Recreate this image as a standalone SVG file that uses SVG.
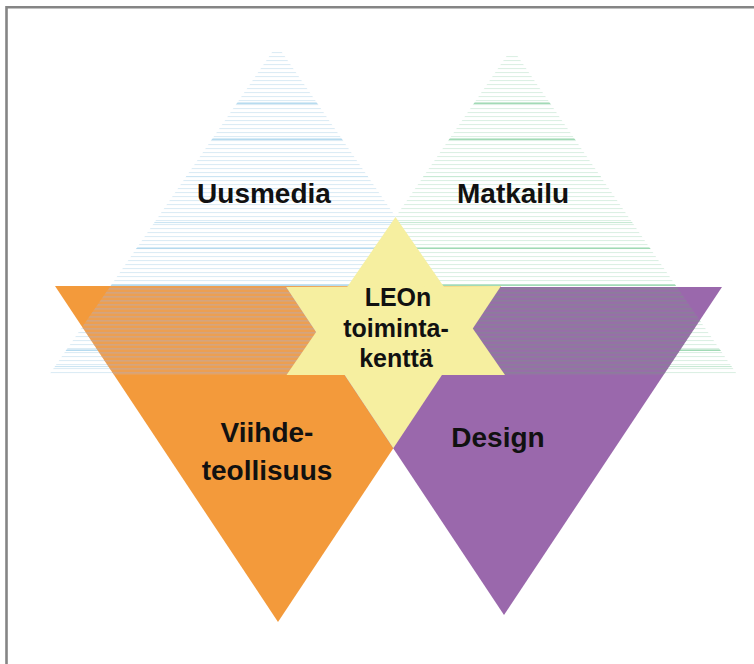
<svg xmlns="http://www.w3.org/2000/svg" width="754" height="664" viewBox="0 0 754 664">
  <style>
    .lbl { font-family: "Liberation Sans", Arial, sans-serif; font-weight: bold; font-size: 28px; fill: #111; text-anchor: middle; }
    .star { font-size: 25px; }
    .frame { stroke: #858585; stroke-width: 2.6; fill: none; }
  </style>
  <defs>
    <pattern id="pBlue" patternUnits="userSpaceOnUse" x="0" y="0" width="20" height="4">
      <rect x="0" y="0" width="20" height="1.1" fill="#dcecf5"/>
    </pattern>
    <pattern id="pGreen" patternUnits="userSpaceOnUse" x="0" y="0" width="20" height="4">
      <rect x="0" y="0" width="20" height="1.1" fill="#dcf0e4"/>
    </pattern>
    <pattern id="pOB" patternUnits="userSpaceOnUse" x="0" y="0" width="20" height="4">
      <rect x="0" y="0" width="20" height="4" fill="#dcae8a" opacity="0.3"/>
      <rect x="0" y="0" width="20" height="1.6" fill="#c8a896" opacity="0.65"/>
    </pattern>
    <pattern id="pPG" patternUnits="userSpaceOnUse" x="0" y="0" width="20" height="4">
      <rect x="0" y="0" width="20" height="4" fill="#8f8a9a" opacity="0.22"/>
      <rect x="0" y="0" width="20" height="1.6" fill="#858593" opacity="0.6"/>
    </pattern>
    <clipPath id="cBlue"><polygon points="277,45 49,375 505,375"/></clipPath>
    <clipPath id="cGreen"><polygon points="512,48 286.5,375 737.5,375"/></clipPath>
  </defs>

  <rect x="0" y="0" width="754" height="664" fill="#ffffff"/>
  <path class="frame" d="M6.5,664 V7.3 H754"/>

  <g id="uusmedia">
    <g clip-path="url(#cBlue)">
      <rect x="40" y="52" width="480" height="323" fill="url(#pBlue)"/>
      <g fill="#b0d7ee">
        <rect x="40" y="102.5" width="480" height="1.4"/>
        <rect x="40" y="138.5" width="480" height="1.4"/>
        <rect x="40" y="247.5" width="480" height="1.4"/>
        <rect x="40" y="284.5" width="480" height="1.4"/>
        <rect x="40" y="349.5" width="480" height="1.4"/>
      </g>
      <g fill="#cce5f3">
        <rect x="40" y="176" width="480" height="1.1"/>
        <rect x="40" y="222" width="480" height="1.1"/>
        <rect x="40" y="321" width="480" height="1.1"/>
        <rect x="40" y="366" width="480" height="1.1"/>
      </g>
    </g>
  </g>

  <g id="matkailu">
    <g clip-path="url(#cGreen)">
      <rect x="280" y="55" width="470" height="320" fill="url(#pGreen)"/>
      <g fill="#98d6ae">
        <rect x="280" y="102.5" width="470" height="1.4"/>
        <rect x="280" y="138.5" width="470" height="1.4"/>
        <rect x="280" y="247.5" width="470" height="1.4"/>
        <rect x="280" y="284.5" width="470" height="1.4"/>
        <rect x="280" y="349.5" width="470" height="1.4"/>
      </g>
      <g fill="#c8ead5">
        <rect x="280" y="176" width="470" height="1.1"/>
        <rect x="280" y="222" width="470" height="1.1"/>
        <rect x="280" y="321" width="470" height="1.1"/>
        <rect x="280" y="366" width="470" height="1.1"/>
      </g>
    </g>
  </g>

  <g id="viihdeteollisuus">
    <polygon points="55,286 501,286 278,622" fill="#f39a3b"/>
    <polygon points="55,286 501,286 278,622" fill="url(#pOB)" clip-path="url(#cBlue)"/>
  </g>

  <g id="design">
    <polygon points="286,287 722,287 504,615" fill="#9a68ac"/>
    <polygon points="286,287 722,287 504,615" fill="url(#pPG)" clip-path="url(#cGreen)"/>
  </g>

  <g id="leo">
    <polygon points="395.5,216.9 505,375 286.5,375" fill="#f6efa0"/>
    <polygon points="286,287 501,286 393.3,448.3" fill="#f6efa0"/>
  </g>

  <g id="labels">
    <text class="lbl" x="264" y="203">Uusmedia</text>
    <text class="lbl" x="513" y="203">Matkailu</text>
    <text class="lbl star" x="398" y="306">LEOn</text>
    <text class="lbl star" x="396" y="337">toiminta-</text>
    <text class="lbl star" x="396" y="367">kenttä</text>
    <text class="lbl" x="267" y="442">Viihde-</text>
    <text class="lbl" x="267" y="480">teollisuus</text>
    <text class="lbl" x="498" y="447">Design</text>
  </g>
</svg>
